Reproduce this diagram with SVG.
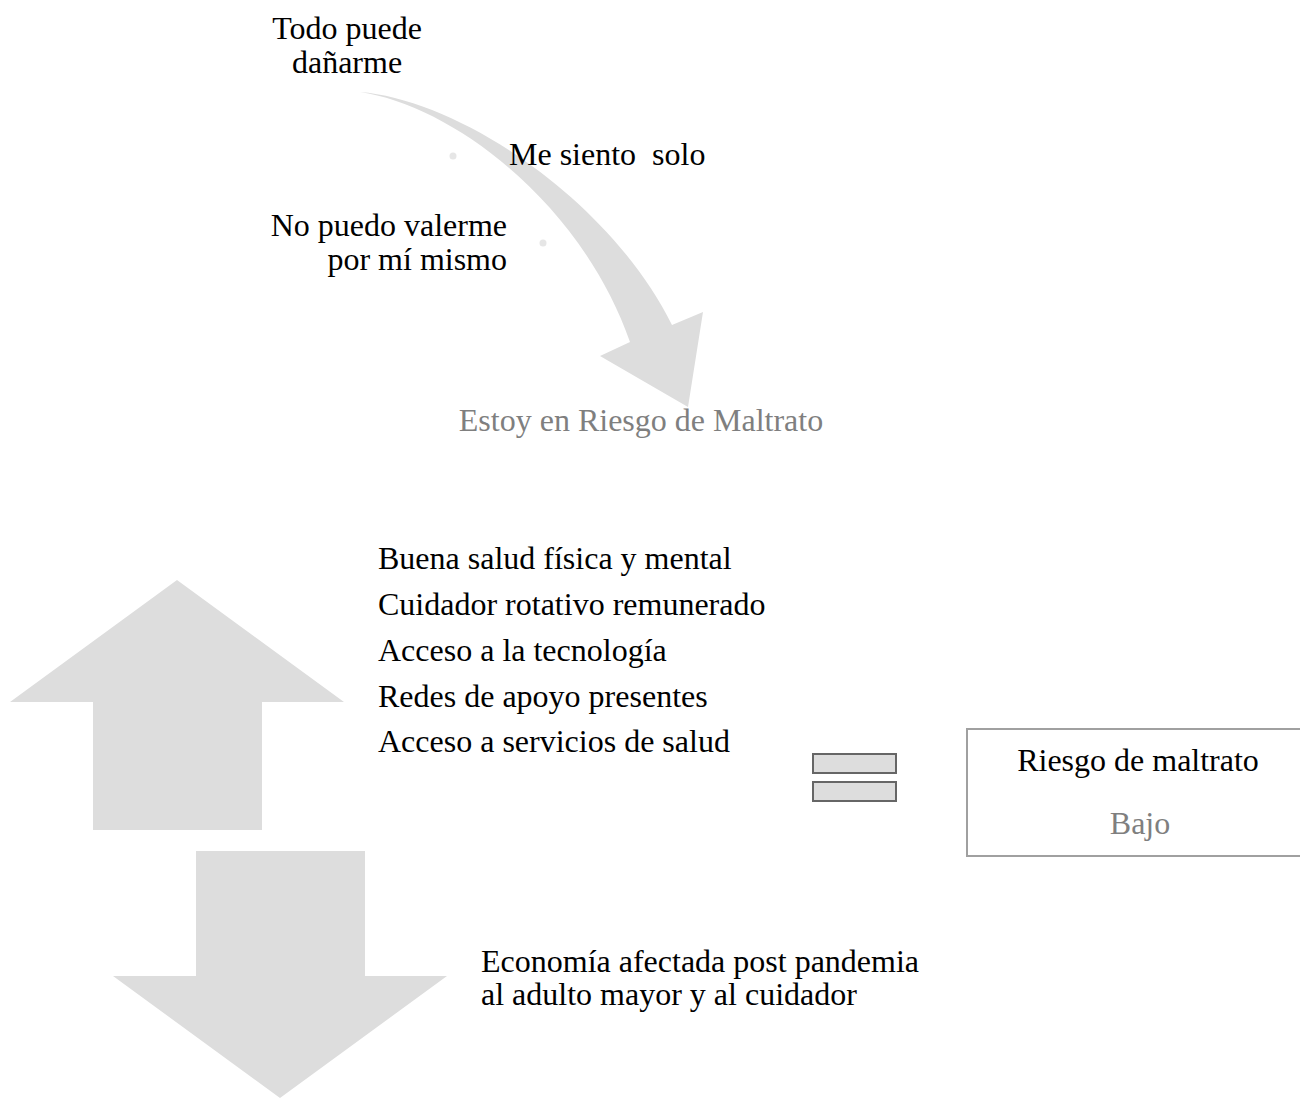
<svg xmlns="http://www.w3.org/2000/svg" width="1300" height="1107" viewBox="0 0 1300 1107">
<style>
text{font-family:"Liberation Serif","Times New Roman",serif;font-size:32px;fill:#000}
.g{fill:#7f7f7f}
.shape{fill:#dddddd}
.dot{fill:#e6e6e6}
</style>
<rect width="1300" height="1107" fill="#ffffff"/>
<g id="connectors">
<path id="curved-arrow" class="shape" d="M360,92 C460,100 610,200 672,325 L703,312 L688,407 L600,356 L630,342 C580,200 450,105 360,92 Z"/>
</g>
<g id="dots">
<circle class="dot" cx="453" cy="156" r="3.5"/>
<circle class="dot" cx="543" cy="243" r="3.5"/>
</g>
<g id="todo-puede">
<text x="347" y="39" text-anchor="middle">Todo puede</text>
<text x="347" y="73" text-anchor="middle">dañarme</text>
</g>
<g id="me-siento">
<text x="509" y="165" xml:space="preserve">Me siento  solo</text>
</g>
<g id="no-puedo">
<text x="507" y="236" text-anchor="end">No puedo valerme</text>
<text x="507" y="270" text-anchor="end">por mí mismo</text>
</g>
<g id="estoy-riesgo">
<text class="g" x="641" y="431" text-anchor="middle">Estoy en Riesgo de Maltrato</text>
</g>
<g id="up-arrow">
<polygon class="shape" points="177,580 344,702 262,702 262,830 93,830 93,702 10,702"/>
</g>
<g id="factores-protectores">
<text x="378" y="569">Buena salud física y mental</text>
<text x="378" y="615">Cuidador rotativo remunerado</text>
<text x="378" y="661">Acceso a la tecnología</text>
<text x="378" y="707">Redes de apoyo presentes</text>
<text x="378" y="752">Acceso a servicios de salud</text>
</g>
<g id="equals">
<rect x="813" y="754" width="83" height="19" fill="#dddddd" stroke="#666666" stroke-width="2"/>
<rect x="813" y="782" width="83" height="19" fill="#dddddd" stroke="#666666" stroke-width="2"/>
</g>
<g id="riesgo-box">
<rect x="967" y="729" width="345" height="127" fill="#ffffff" stroke="#a0a0a0" stroke-width="2"/>
<text x="1138" y="771" text-anchor="middle">Riesgo de maltrato</text>
<text class="g" x="1140" y="834" text-anchor="middle">Bajo</text>
</g>
<g id="down-arrow">
<polygon class="shape" points="196,851 365,851 365,976 447,976 280,1098 113,976 196,976"/>
</g>
<g id="factor-riesgo">
<text x="481" y="972">Economía afectada post pandemia</text>
<text x="481" y="1005">al adulto mayor y al cuidador</text>
</g>
</svg>
